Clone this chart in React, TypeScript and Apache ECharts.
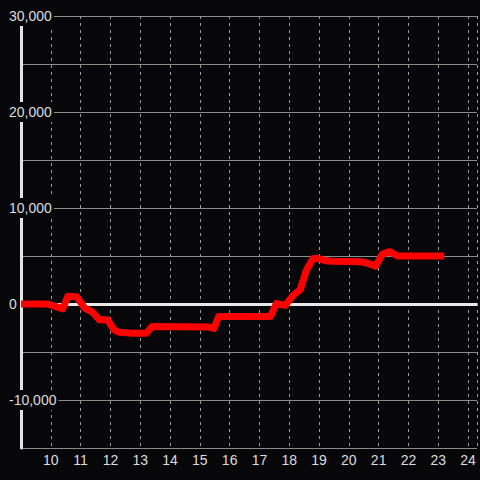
import React, { useEffect, useRef } from "react";
import * as echarts from "echarts";

const hours: number[] = [
  9, 9.9, 10.05, 10.4, 10.57, 10.87, 11.13, 11.4, 11.63, 11.9, 12.13, 12.3, 12.73,
  13.2, 13.4, 15.3, 15.47, 15.63, 17.37, 17.57, 17.87, 18.13, 18.37, 18.57, 18.8,
  18.97, 19.23, 19.43, 20.4, 20.63, 20.9, 21.13, 21.37, 21.63, 23.2,
];
const values: number[] = [
  0, 0, -150, -500, 800, 750, -400, -850, -1650, -1650, -2700, -2950, -3050,
  -3050, -2350, -2400, -2550, -1300, -1300, 50, -150, 900, 1500, 3500, 4750,
  4750, 4500, 4450, 4400, 4250, 3950, 5200, 5450, 5000, 5000,
];
const xMin = 9;
const xMax = 24.3;
const yMin = -15000;
const yMax = 30000;
const yStep = 5000;
const yLabelStep = 10000;

export default function App() {
  const ref = useRef<HTMLDivElement>(null);
  useEffect(() => {
    if (!ref.current) return;
    const chart = echarts.init(ref.current, undefined, { renderer: "svg" });
    const bg = "#070609";
    chart.setOption({
      animation: false,
      backgroundColor: bg,
      grid: { left: 21, right: 0, top: 16, bottom: 32, containLabel: false },
      xAxis: {
        type: "value",
        min: xMin,
        max: xMax,
        interval: 1,
        axisLine: { show: false },
        axisTick: { show: false },
        axisLabel: {
          color: "#dddddd",
          fontSize: 14,
          fontFamily: "Liberation Sans, Arial, sans-serif",
          margin: 5,
          formatter: (v: number) =>
            Number.isInteger(v) && v !== xMin ? String(v) : "",
        },
        splitLine: {
          show: true,
          lineStyle: { color: "#9a9a9a", width: 1, type: [3, 4] },
        },
      },
      yAxis: {
        type: "value",
        min: yMin,
        max: yMax,
        interval: yStep,
        axisLine: {
          show: true,
          onZero: false,
          lineStyle: { color: "#e4e4e4", width: 3 },
        },
        axisTick: { show: false },
        axisLabel: {
          color: "#dddddd",
          fontSize: 14,
          fontFamily: "Liberation Sans, Arial, sans-serif",
          align: "left",
          margin: 14,
          backgroundColor: bg,
          padding: [3, 2, 3, 2],
          formatter: (v: number) =>
            v % yLabelStep === 0 ? v.toLocaleString("en-US") : "",
        },
        splitLine: {
          show: true,
          lineStyle: { color: "#8a8c88", width: 1, type: "solid" },
        },
      },
      series: [
        {
          type: "line",
          data: hours.map((h, i) => [h, values[i]]),
          showSymbol: false,
          symbol: "none",
          lineStyle: { color: "#ff0000", width: 7, join: "round", cap: "butt" },
          z: 3,
          markLine: {
            silent: true,
            symbol: "none",
            z: 1,
            label: { show: false },
            lineStyle: { color: "#e8e8e8", width: 3, type: "solid" },
            data: [{ yAxis: 0 }],
          },
        },
      ],
    });
    return () => chart.dispose();
  }, []);
  return (
    <div
      ref={ref}
      style={{ position: "fixed", left: 0, top: 0, width: 480, height: 480 }}
    />
  );
}
